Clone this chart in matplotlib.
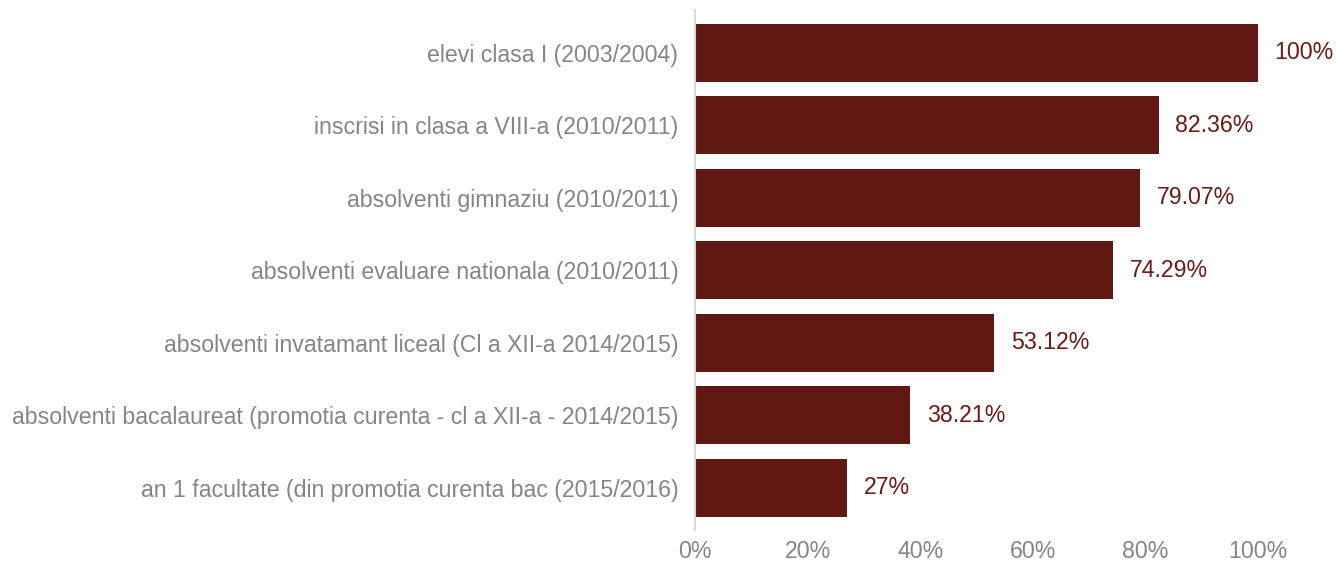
import matplotlib
matplotlib.use("Agg")
import matplotlib.pyplot as plt
from matplotlib.ticker import FuncFormatter

categories = [
    "elevi clasa I (2003/2004)",
    "inscrisi in clasa a VIII-a (2010/2011)",
    "absolventi gimnaziu (2010/2011)",
    "absolventi evaluare nationala (2010/2011)",
    "absolventi invatamant liceal (Cl a XII-a 2014/2015)",
    "absolventi bacalaureat (promotia curenta - cl a XII-a - 2014/2015)",
    "an 1 facultate (din promotia curenta bac (2015/2016)",
]
values = [100, 82.36, 79.07, 74.29, 53.12, 38.21, 27]
xticks = [0, 20, 40, 60, 80, 100]

plt.rcParams['font.family'] = ['Liberation Sans', 'DejaVu Sans']
FS = 16.7

fig = plt.figure(figsize=(13.36, 5.62), dpi=100)
ax = fig.add_axes([695/1336, 1 - 530/562, (1258 - 695)/1336, 520/562])

bar_color = "#5f1812"
ypos = list(range(len(categories)))
ax.barh(ypos, values, height=0.8, color=bar_color, zorder=2)

for y, v in zip(ypos, values):
    ax.annotate(f"{v:g}%", xy=(v, y), xytext=(12, 0), textcoords="offset points",
                va="center", ha="left", fontsize=FS, color="#6b1a15")

ax.set_yticks(ypos)
ax.set_yticklabels(categories, fontsize=FS, color="#858585")
ax.set_ylim(len(categories) - 0.42, -0.59)
ax.set_xlim(0, 100)
ax.set_xticks(xticks)
ax.xaxis.set_major_formatter(FuncFormatter(lambda x, p: f"{x:g}%"))
ax.tick_params(axis='x', length=0, labelsize=FS, labelcolor="#858585", pad=7)
ax.tick_params(axis='y', length=0, pad=12)

for s in ['top', 'right', 'bottom']:
    ax.spines[s].set_visible(False)
ax.spines['left'].set_color("#d9d9d9")
ax.spines['left'].set_linewidth(1.5)
ax.spines['left'].set_zorder(3)

fig.savefig("out.png", dpi=100)
